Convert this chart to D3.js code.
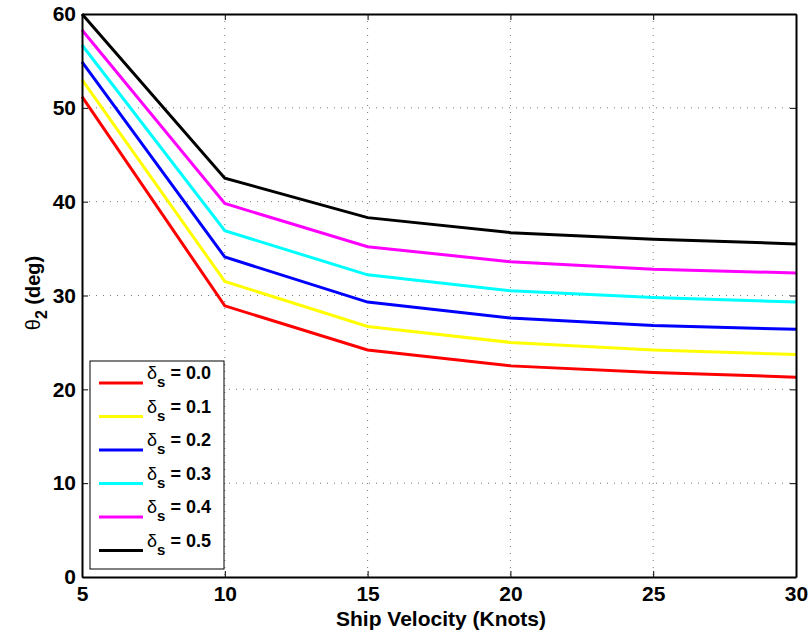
<!DOCTYPE html>
<html><head><meta charset="utf-8">
<script src="https://cdn.jsdelivr.net/npm/d3@7"></script>
<style>body{margin:0;background:#fff}svg{font-family:"Liberation Sans",Arial,sans-serif;font-weight:bold}</style>
</head><body><svg id="c" width="809" height="635"></svg>
<script>
const velocities = [5, 10, 15, 20, 25, 30];
const deltaLabels = ["0.0", "0.1", "0.2", "0.3", "0.4", "0.5"];
const colors = ["#ff0000", "#ffff00", "#0000ff", "#00ffff", "#ff00ff", "#000000"];
const theta00 = [51.2, 28.9, 24.2, 22.5, 21.8, 21.3];
const theta01 = [53.0, 31.5, 26.7, 25.0, 24.2, 23.7];
const theta02 = [54.9, 34.1, 29.3, 27.6, 26.8, 26.4];
const theta03 = [56.7, 36.9, 32.2, 30.5, 29.8, 29.3];
const theta04 = [58.3, 39.8, 35.2, 33.6, 32.8, 32.4];
const theta05 = [60.0, 42.5, 38.3, 36.7, 36.0, 35.5];
const series = [theta00, theta01, theta02, theta03, theta04, theta05];
const xTicks = [5, 10, 15, 20, 25, 30];
const yTicks = [0, 10, 20, 30, 40, 50, 60];

const svg = d3.select("#c");
const L = 82, R = 796, T = 14, B = 577;
const x = d3.scaleLinear().domain([5, 30]).range([L, R]);
const y = d3.scaleLinear().domain([0, 60]).range([B, T]);

// grid
const g = svg.append("g");
g.selectAll(".gx").data(xTicks.slice(1, -1)).join("line")
  .attr("x1", d => x(d)).attr("x2", d => x(d)).attr("y1", T).attr("y2", B)
  .attr("stroke", "#777").attr("stroke-width", 1).attr("stroke-dasharray", "1,6");
g.selectAll(".gy").data(yTicks.slice(1, -1)).join("line")
  .attr("y1", d => y(d)).attr("y2", d => y(d)).attr("x1", L).attr("x2", R)
  .attr("stroke", "#777").attr("stroke-width", 1).attr("stroke-dasharray", "1,6");

// lines
const line = d3.line().x((d, i) => x(velocities[i])).y(d => y(d));
series.forEach((s, k) => {
  svg.append("path").datum(s).attr("d", line).attr("fill", "none")
    .attr("stroke", colors[k]).attr("stroke-width", 3);
});

// axes
const ax = svg.append("g").attr("transform", `translate(0,${B})`)
  .call(d3.axisBottom(x).tickValues(xTicks).tickSizeInner(-6).tickSizeOuter(0).tickPadding(10));
const ay = svg.append("g").attr("transform", `translate(${L},0)`)
  .call(d3.axisLeft(y).tickValues(yTicks).tickSizeInner(-6).tickSizeOuter(0).tickPadding(6));
const axT = svg.append("g").attr("transform", `translate(0,${T})`)
  .call(d3.axisTop(x).tickValues(xTicks).tickSizeInner(-6).tickSizeOuter(0).tickFormat(""));
const ayR = svg.append("g").attr("transform", `translate(${R},0)`)
  .call(d3.axisRight(y).tickValues(yTicks).tickSizeInner(-6).tickSizeOuter(0).tickFormat(""));
[ax, ay, axT, ayR].forEach(a => {
  a.select(".domain").attr("stroke", "#000").attr("stroke-width", 2);
  a.selectAll(".tick line").attr("stroke", "#000").attr("stroke-width", 1);
  a.selectAll("text").attr("font-size", 21).attr("font-weight", "bold")
    .attr("font-family", "Liberation Sans, Arial, sans-serif").attr("fill", "#000");
});
ax.selectAll("text").attr("dy", "0.68em");

// axis titles
svg.append("text").attr("x", 441).attr("y", 626).attr("text-anchor", "middle")
  .attr("font-size", 21).text("Ship Velocity (Knots)");
const yl = svg.append("text").attr("transform", `translate(40,293) rotate(-90)`)
  .attr("text-anchor", "middle").attr("font-size", 20);
yl.append("tspan").attr("font-weight", "normal").text("θ");
yl.append("tspan").attr("dy", 7).attr("font-size", 16).text("2");
yl.append("tspan").attr("dy", -7).text(" (deg)");

// legend
const lg = svg.append("g");
lg.append("rect").attr("x", 90).attr("y", 361).attr("width", 134).attr("height", 208)
  .attr("fill", "#fff").attr("stroke", "#000").attr("stroke-width", 1);
deltaLabels.forEach((lab, k) => {
  const yy = 383 + k * 33.5;
  lg.append("line").attr("x1", 99).attr("x2", 143).attr("y1", yy).attr("y2", yy)
    .attr("stroke", colors[k]).attr("stroke-width", 3);
  const t = lg.append("text").attr("x", 147).attr("y", yy - 4).attr("font-size", 18);
  t.append("tspan").attr("font-weight", "normal").text("δ");
  t.append("tspan").attr("dy", 8).attr("font-size", 15).text("s");
  t.append("tspan").attr("dy", -8).text(" = " + lab);
});
</script></body></html>
